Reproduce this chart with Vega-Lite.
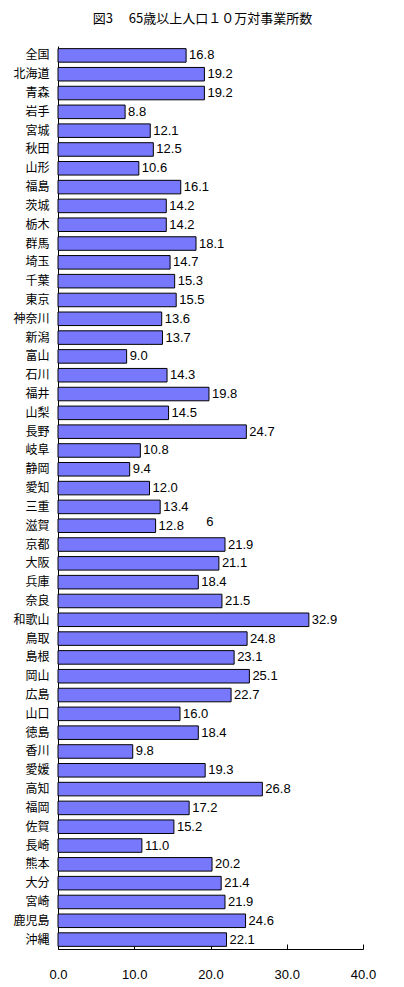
{
  "$schema": "https://vega.github.io/schema/vega-lite/v6.json",
  "autosize": "none",
  "width": 305,
  "height": 903,
  "padding": {"left": 58, "top": 46, "right": 41, "bottom": 38},
  "background": "white",
  "title": {"text": "図3　 65歳以上人口１０万対事業所数", "anchor": "middle", "fontSize": 13, "fontWeight": "normal", "font": "Noto Sans CJK JP", "color": "black", "offset": 20, "dx": -8},
  "config": {"view": {"stroke": null}, "font": "Noto Sans CJK JP"},
  "data": {"values": [
    {"pref": "全国", "v": 16.8}, {"pref": "北海道", "v": 19.2}, {"pref": "青森", "v": 19.2}, {"pref": "岩手", "v": 8.8},
    {"pref": "宮城", "v": 12.1}, {"pref": "秋田", "v": 12.5}, {"pref": "山形", "v": 10.6}, {"pref": "福島", "v": 16.1},
    {"pref": "茨城", "v": 14.2}, {"pref": "栃木", "v": 14.2}, {"pref": "群馬", "v": 18.1}, {"pref": "埼玉", "v": 14.7},
    {"pref": "千葉", "v": 15.3}, {"pref": "東京", "v": 15.5}, {"pref": "神奈川", "v": 13.6}, {"pref": "新潟", "v": 13.7},
    {"pref": "富山", "v": 9.0}, {"pref": "石川", "v": 14.3}, {"pref": "福井", "v": 19.8}, {"pref": "山梨", "v": 14.5},
    {"pref": "長野", "v": 24.7}, {"pref": "岐阜", "v": 10.8}, {"pref": "静岡", "v": 9.4}, {"pref": "愛知", "v": 12.0},
    {"pref": "三重", "v": 13.4}, {"pref": "滋賀", "v": 12.8}, {"pref": "京都", "v": 21.9}, {"pref": "大阪", "v": 21.1},
    {"pref": "兵庫", "v": 18.4}, {"pref": "奈良", "v": 21.5}, {"pref": "和歌山", "v": 32.9}, {"pref": "鳥取", "v": 24.8},
    {"pref": "島根", "v": 23.1}, {"pref": "岡山", "v": 25.1}, {"pref": "広島", "v": 22.7}, {"pref": "山口", "v": 16.0},
    {"pref": "徳島", "v": 18.4}, {"pref": "香川", "v": 9.8}, {"pref": "愛媛", "v": 19.3}, {"pref": "高知", "v": 26.8},
    {"pref": "福岡", "v": 17.2}, {"pref": "佐賀", "v": 15.2}, {"pref": "長崎", "v": 11.0}, {"pref": "熊本", "v": 20.2},
    {"pref": "大分", "v": 21.4}, {"pref": "宮崎", "v": 21.9}, {"pref": "鹿児島", "v": 24.6}, {"pref": "沖縄", "v": 22.1}
  ]},
  "encoding": {
    "y": {"field": "pref", "type": "nominal", "sort": null, "title": null,
      "scale": {"paddingInner": 0.28, "paddingOuter": 0.14},
      "axis": {"ticks": false, "domainColor": "black", "labelColor": "black", "labelFontSize": 12, "labelPadding": 9}},
    "x": {"field": "v", "type": "quantitative", "title": null,
      "scale": {"domain": [0, 40], "nice": false},
      "axis": {"values": [0, 10, 20, 30, 40], "format": ".1f", "grid": false, "domainColor": "black", "tickColor": "black", "tickSize": -5, "labelPadding": 24, "labelColor": "black", "labelFontSize": 13, "labelFont": "Liberation Sans", "labelFlush": false}}
  },
  "layer": [
    {"mark": {"type": "bar", "color": "#7878fc", "stroke": "black", "strokeWidth": 1}},
    {"mark": {"type": "text", "align": "left", "dx": 3, "fontSize": 13, "font": "Liberation Sans", "color": "black"},
      "encoding": {"text": {"field": "v", "type": "quantitative", "format": ".1f"}}},
    {"data": {"values": [{"pref": "滋賀", "v": 19.9, "t": "6"}]},
      "mark": {"type": "text", "align": "center", "dy": -4, "fontSize": 13, "font": "Liberation Sans", "color": "black"},
      "encoding": {"text": {"field": "t"}}}
  ]
}
